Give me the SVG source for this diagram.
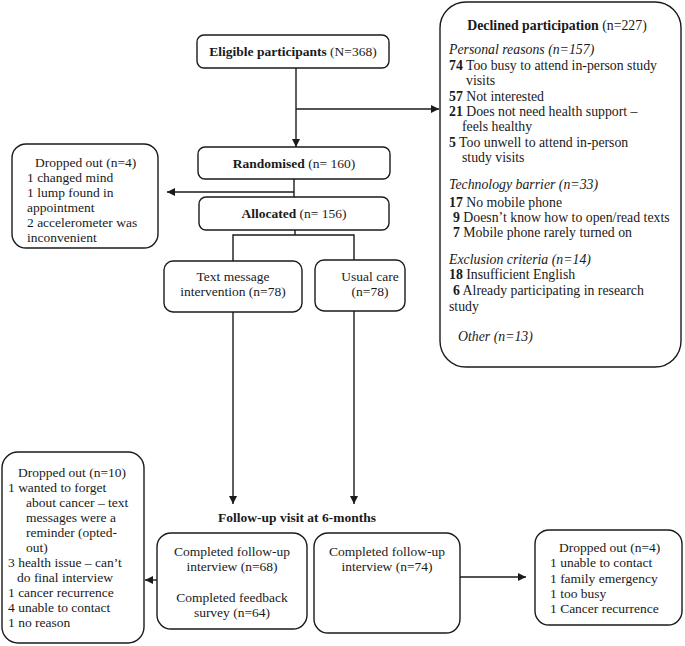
<svg xmlns="http://www.w3.org/2000/svg" width="685" height="646" viewBox="0 0 685 646">
<defs>
<marker id="ah" viewBox="0 0 10 10" refX="10" refY="5" markerWidth="8" markerHeight="8" markerUnits="userSpaceOnUse" orient="auto">
<path d="M0,0 L10,5 L0,10 z" fill="#1a1a1a"/>
</marker>
</defs>
<style>
.box{fill:#fff;stroke:#1a1a1a;stroke-width:1.4}
.ln{fill:none;stroke:#1a1a1a;stroke-width:1.4}
.arr{fill:none;stroke:#1a1a1a;stroke-width:1.4;marker-end:url(#ah)}
text{font-family:"Liberation Serif","Times New Roman",serif;font-size:13.5px;fill:#1a1a1a}
#declined text{font-size:13.8px}
.c{text-anchor:middle}
.b{font-weight:bold}
.i{font-style:italic}
</style>
<rect width="685" height="646" fill="#fff"/>
<g id="connectors">
<path class="arr" d="M296,68 V147"/>
<path class="arr" d="M296,109 H439"/>
<path class="ln" d="M294,179 V197"/>
<path class="arr" d="M294,192 H167"/>
<path class="ln" d="M295,230 V235 M233,261 V235 H354 V261"/>
<path class="arr" d="M233,312 V504"/>
<path class="arr" d="M354,311 V504"/>
<path class="arr" d="M157,580 H145"/>
<path class="arr" d="M460,577 H526"/>
</g>
<g id="eligible">
<rect class="box" x="197" y="35" width="192" height="33" rx="7"/>
<text x="293" y="56" class="c"><tspan class="b">Eligible participants</tspan> (N=368)</text>
</g>
<g id="declined">
<rect class="box" x="440" y="2" width="241" height="365" rx="26"/>
<text x="557" y="30" class="c"><tspan class="b">Declined participation</tspan> (n=227)</text>
<text x="449" y="54" class="i">Personal reasons (n=157)</text>
<text x="449" y="70"><tspan class="b">74</tspan> Too busy to attend in-person study</text>
<text x="466" y="85">visits</text>
<text x="449" y="101"><tspan class="b">57</tspan> Not interested</text>
<text x="449" y="116"><tspan class="b">21</tspan> Does not need health support –</text>
<text x="462" y="131">feels healthy</text>
<text x="449" y="147"><tspan class="b">5</tspan> Too unwell to attend in-person</text>
<text x="462" y="162">study visits</text>
<text x="449" y="189" class="i">Technology barrier (n=33)</text>
<text x="449" y="207"><tspan class="b">17</tspan> No mobile phone</text>
<text x="453" y="222"><tspan class="b">9</tspan> Doesn’t know how to open/read texts</text>
<text x="453" y="237"><tspan class="b">7</tspan> Mobile phone rarely turned on</text>
<text x="449" y="264" class="i">Exclusion criteria (n=14)</text>
<text x="449" y="279"><tspan class="b">18</tspan> Insufficient English</text>
<text x="453" y="295"><tspan class="b">6</tspan> Already participating in research</text>
<text x="449" y="311">study</text>
<text x="458" y="341" class="i">Other (n=13)</text>
</g>
<g id="randomised">
<rect class="box" x="198" y="147" width="192" height="32" rx="7"/>
<text x="294" y="168" class="c"><tspan class="b">Randomised</tspan> (n= 160)</text>
</g>
<g id="dropped1">
<rect class="box" x="12" y="144" width="146" height="104" rx="14"/>
<text x="35" y="167">Dropped out (n=4)</text>
<text x="27" y="182">1 changed mind</text>
<text x="27" y="197">1 lump found in</text>
<text x="27" y="212">appointment</text>
<text x="27" y="227">2 accelerometer was</text>
<text x="27" y="242">inconvenient</text>
</g>
<g id="allocated">
<rect class="box" x="199" y="197" width="190" height="33" rx="7"/>
<text x="294" y="218" class="c"><tspan class="b">Allocated</tspan> (n= 156)</text>
</g>
<g id="text-msg">
<rect class="box" x="164" y="261" width="138" height="51" rx="9"/>
<text x="233" y="281" class="c">Text message</text>
<text x="233" y="296" class="c">intervention (n=78)</text>
</g>
<g id="usual">
<rect class="box" x="315" y="260" width="90" height="51" rx="9"/>
<text x="370" y="281" class="c">Usual care</text>
<text x="370" y="296" class="c">(n=78)</text>
</g>
<g id="followup-label">
<text x="297" y="522" class="c b">Follow-up visit at 6-months</text>
</g>
<g id="completed1">
<rect class="box" x="157" y="533" width="150" height="96" rx="14"/>
<text x="232" y="556" class="c">Completed follow-up</text>
<text x="232" y="571" class="c">interview (n=68)</text>
<text x="232" y="602" class="c">Completed feedback</text>
<text x="232" y="617" class="c">survey (n=64)</text>
</g>
<g id="completed2">
<rect class="box" x="314" y="533" width="146" height="100" rx="14"/>
<text x="387" y="556" class="c">Completed follow-up</text>
<text x="387" y="571" class="c">interview (n=74)</text>
</g>
<g id="dropped2">
<rect class="box" x="2" y="452" width="142" height="191" rx="16"/>
<text x="18" y="477">Dropped out (n=10)</text>
<text x="8" y="492">1 wanted to forget</text>
<text x="26" y="507">about cancer – text</text>
<text x="26" y="522">messages were a</text>
<text x="26" y="537">reminder (opted-</text>
<text x="26" y="552">out)</text>
<text x="8" y="567">3 health issue – can’t</text>
<text x="17" y="582">do final interview</text>
<text x="8" y="597">1 cancer recurrence</text>
<text x="8" y="612">4 unable to contact</text>
<text x="8" y="627">1 no reason</text>
</g>
<g id="dropped3">
<rect class="box" x="535" y="530" width="147" height="95" rx="14"/>
<text x="559" y="552">Dropped out (n=4)</text>
<text x="550" y="567">1 unable to contact</text>
<text x="550" y="583">1 family emergency</text>
<text x="550" y="598">1 too busy</text>
<text x="550" y="613">1 Cancer recurrence</text>
</g>
</svg>
